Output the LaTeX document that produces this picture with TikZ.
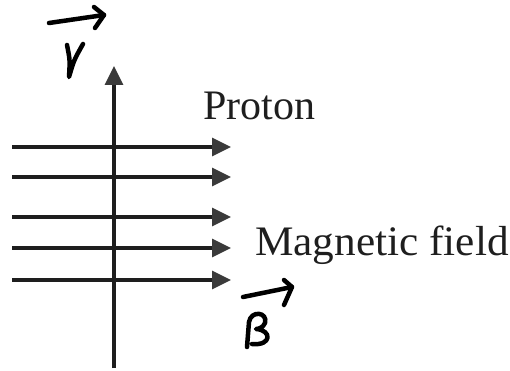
\documentclass[tikz,border=0pt]{standalone}
\usepackage{fontspec}
\setmainfont{Liberation Serif}
\usetikzlibrary{arrows.meta}
\definecolor{ink}{HTML}{1e1e1e}
\definecolor{headgray}{HTML}{3a3a3a}
\tikzset{
  fieldarrow/.style={draw=ink, line width=3.2pt, -{Triangle[length=19pt,width=18pt,fill=headgray,color=headgray]}},
  handstroke/.style={draw=black, line width=4.5pt, line cap=round, line join=round},
  lbl/.style={font=\fontsize{42}{44}\selectfont, text=ink, inner sep=0pt, anchor=base west}
}
\begin{document}
\begin{tikzpicture}[x=1pt,y=-1pt]
\useasboundingbox (0,0) rectangle (510,371);
% vertical proton arrow
\coordinate (pbot) at (114,368);
\coordinate (ptop) at (114,66);
\draw[fieldarrow] (pbot) -- (ptop);
% field lines
\foreach \i/\yy in {1/147,2/177,3/217,4/248,5/280}{
  \coordinate (fs\i) at (12,\yy);
  \coordinate (fe\i) at (231,\yy);
  \draw[fieldarrow] (fs\i) -- (fe\i);
}
% labels
\node[lbl] (proton) at (203,120) {Proton};
\node[lbl, xscale=1.03] (mag) at (255,255) {Magnetic field};
% handwritten v with arrow
\coordinate (va) at (49,23);
\coordinate (vb) at (104,15);
\draw[handstroke] (va) -- (vb);
\draw[handstroke] (94,7) -- (104,15) -- (95,28);
\draw[handstroke] (67,45) .. controls (70,60) .. (69,77) .. controls (74,60) .. (83,44);
% handwritten B with arrow
\coordinate (ba) at (243,297);
\coordinate (bb) at (292,287);
\draw[handstroke] (ba) -- (bb);
\draw[handstroke] (284,280) -- (292,287) -- (284,305);
\draw[handstroke] (247,347) -- (249,322) .. controls (251,310) and (268,312) .. (265,323)
  .. controls (263,328) and (258,329) .. (256,329)
  .. controls (272,330) and (272,346) .. (252,344);
\end{tikzpicture}
\end{document}
